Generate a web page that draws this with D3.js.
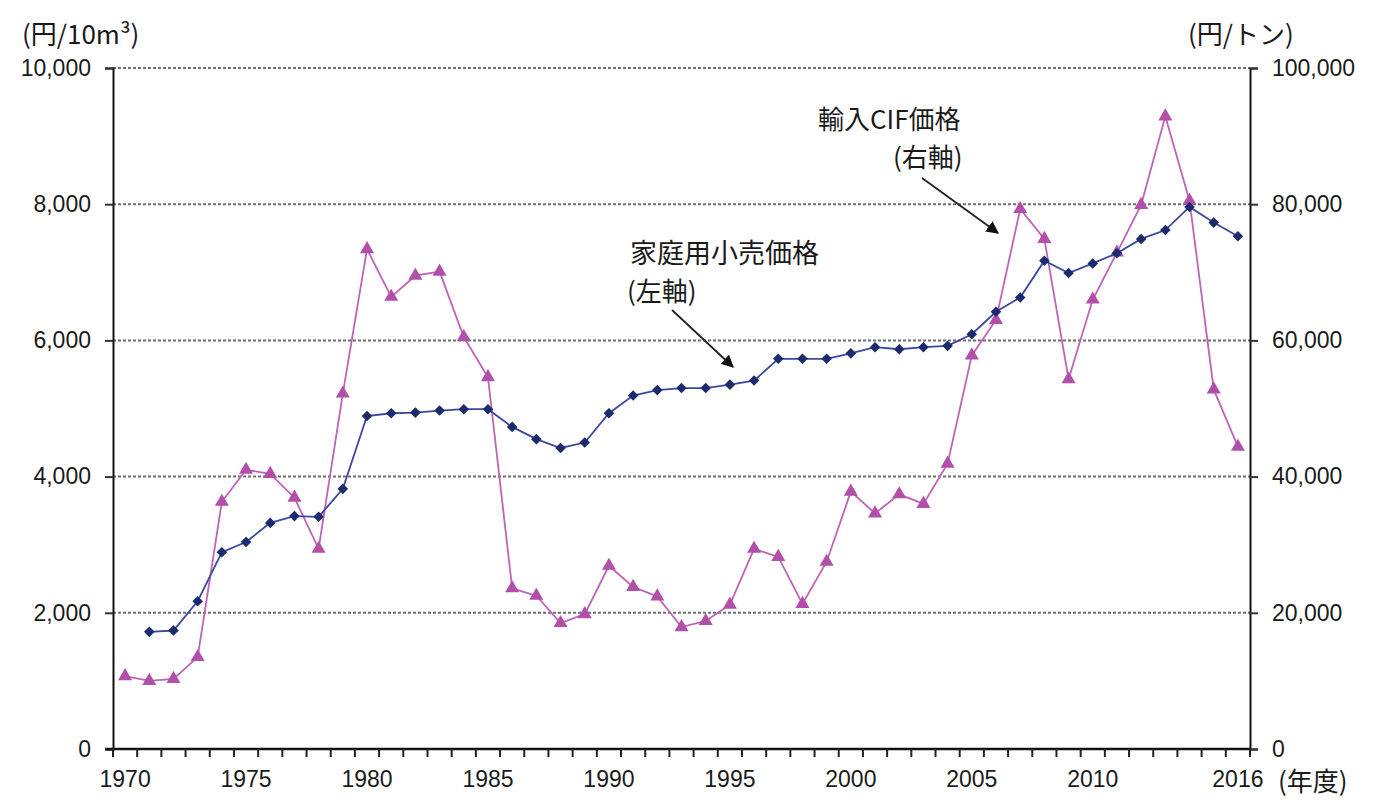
<!DOCTYPE html>
<html><head><meta charset="utf-8">
<script src="https://cdn.jsdelivr.net/npm/d3@7"></script>
<style>
body{margin:0;background:#fff;}
text{font-family:"Liberation Sans",Arial,"Noto Sans CJK JP",sans-serif;fill:#1a1a1a;}
.jp{font-family:"Noto Sans CJK JP","Liberation Sans",sans-serif;}
</style></head>
<body>
<svg id="chart" width="1380" height="807"></svg>
<script>
const years = d3.range(1970, 2017);
const retailYears = d3.range(1971, 2017);
const retailPrice = [1720,1740,2170,2890,3040,3320,3420,3410,3820,4890,4930,4940,4970,4990,4990,4730,4550,4420,4500,4930,5190,5270,5300,5300,5350,5410,5730,5730,5730,5810,5900,5870,5900,5920,6090,6420,6630,7170,6990,7130,7280,7490,7620,7960,7730,7530];
const cifYears = d3.range(1970, 2017);
const cifPrice = [10700,10000,10300,13500,36300,41000,40400,36900,29400,52200,73400,66400,69500,70100,60500,54600,23600,22500,18500,19800,26900,23800,22400,17900,18800,21200,29400,28200,21300,27500,37800,34600,37400,36000,41900,57800,63000,79300,74900,54300,66000,72900,79900,92900,80500,52800,44400];
const xTickLabels = [1970,1975,1980,1985,1990,1995,2000,2005,2010,2016];
const leftTicks = [0,2000,4000,6000,8000,10000];
const rightTicks = [0,20000,40000,60000,80000,100000];
const leftUnit = "(円/10m³)";
const rightUnit = "(円/トン)";
const xUnit = "(年度)";

const svg = d3.select("#chart");
const L = 113, R = 1250, T = 68, B = 749;

const x = d3.scaleBand().domain(years).range([L, R]).padding(0);
const yL = d3.scaleLinear().domain([0, 10000]).range([B, T]);
const yR = d3.scaleLinear().domain([0, 100000]).range([B, T]);
const cx = d => x(d) + x.bandwidth() / 2;

// gridlines
svg.append("g").selectAll("line").data(leftTicks.filter(d => d > 0)).join("line")
  .attr("x1", L).attr("x2", R).attr("y1", d => yL(d)).attr("y2", d => yL(d))
  .attr("stroke", "#6e6e6e").attr("stroke-width", 2).attr("stroke-dasharray", "3,2");

// left axis
const gl = svg.append("g").attr("transform", `translate(${L},0)`)
  .call(d3.axisLeft(yL).tickValues(leftTicks).tickFormat(d3.format(",")).tickSize(8).tickPadding(14));
gl.select(".domain").attr("stroke", "#111").attr("stroke-width", 2);
gl.selectAll(".tick line").attr("stroke", "#333").attr("stroke-width", 2);
gl.selectAll("text").style("font-size", "23px").attr("fill", "#1a1a1a");

// right axis
const gr = svg.append("g").attr("transform", `translate(${R},0)`)
  .call(d3.axisRight(yR).tickValues(rightTicks).tickFormat(d3.format(",")).tickSize(8).tickPadding(14));
gr.select(".domain").attr("stroke", "#111").attr("stroke-width", 2);
gr.selectAll(".tick line").attr("stroke", "#333").attr("stroke-width", 2);
gr.selectAll("text").style("font-size", "23px").attr("fill", "#1a1a1a");

// bottom axis: labels
const gb = svg.append("g").attr("transform", `translate(0,${B})`)
  .call(d3.axisBottom(x).tickValues(xTickLabels).tickSize(0).tickPadding(22));
gb.select(".domain").remove();
gb.selectAll("text").style("font-size", "23px").attr("fill", "#1a1a1a");
// bottom axis line and tick marks at category boundaries
svg.append("line").attr("x1", L - 8).attr("x2", R).attr("y1", B).attr("y2", B)
  .attr("stroke", "#111").attr("stroke-width", 2.5);
const boundaries = years.map(d => x(d)).concat([R]);
svg.append("g").selectAll("line").data(boundaries).join("line")
  .attr("x1", d => d).attr("x2", d => d).attr("y1", B).attr("y2", B + 8)
  .attr("stroke", "#222").attr("stroke-width", 2);

// unit labels
svg.append("text").attr("class","jp").attr("x", 22).attr("y", 44).style("font-size", "26px").text(leftUnit);
svg.append("text").attr("class","jp").attr("x", 1188).attr("y", 44).style("font-size", "26px").text(rightUnit);
svg.append("text").attr("class","jp").attr("x", 1278).attr("y", 791).style("font-size", "26px").text(xUnit);

// CIF line (right axis)
const pink = "#bf63b7";
svg.append("path").datum(cifYears.map((d,i)=>[d,cifPrice[i]]))
  .attr("fill","none").attr("stroke", pink).attr("stroke-width", 1.8)
  .attr("d", d3.line().x(d => cx(d[0])).y(d => yR(d[1])));
svg.append("g").selectAll("path").data(cifYears.map((d,i)=>[d,cifPrice[i]])).join("path")
  .attr("transform", d => `translate(${cx(d[0])},${yR(d[1])})`)
  .attr("d", d3.symbol(d3.symbolTriangle, 85)())
  .attr("fill", "#b24fa9");

// retail line (left axis)
const navy = "#1c2a6e";
svg.append("path").datum(retailYears.map((d,i)=>[d,retailPrice[i]]))
  .attr("fill","none").attr("stroke", "#3b48a0").attr("stroke-width", 1.8)
  .attr("d", d3.line().x(d => cx(d[0])).y(d => yL(d[1])));
svg.append("g").selectAll("path").data(retailYears.map((d,i)=>[d,retailPrice[i]])).join("path")
  .attr("transform", d => `translate(${cx(d[0])},${yL(d[1])}) rotate(45)`)
  .attr("d", d3.symbol(d3.symbolSquare, 56)())
  .attr("fill", navy);

// annotations
const defs = svg.append("defs");
defs.append("marker").attr("id","arr").attr("viewBox","0 0 10 10").attr("refX",9).attr("refY",5)
  .attr("markerWidth",7).attr("markerHeight",7).attr("orient","auto")
  .append("path").attr("d","M0,0 L10,5 L0,10 z").attr("fill","#111");

svg.append("text").attr("class","jp").attr("x", 818).attr("y", 129).style("font-size", "26px").text("輸入CIF価格");
svg.append("text").attr("class","jp").attr("x", 893).attr("y", 167).style("font-size", "26px").text("(右軸)");
svg.append("line").attr("x1", 922).attr("y1", 178).attr("x2", 998).attr("y2", 233)
  .attr("stroke","#222").attr("stroke-width",1.8).attr("marker-end","url(#arr)");

svg.append("text").attr("class","jp").attr("x", 630).attr("y", 263).style("font-size", "27px").text("家庭用小売価格");
svg.append("text").attr("class","jp").attr("x", 627).attr("y", 301).style("font-size", "26px").text("(左軸)");
svg.append("line").attr("x1", 672).attr("y1", 310).attr("x2", 733).attr("y2", 367)
  .attr("stroke","#222").attr("stroke-width",1.8).attr("marker-end","url(#arr)");
</script>
</body></html>
